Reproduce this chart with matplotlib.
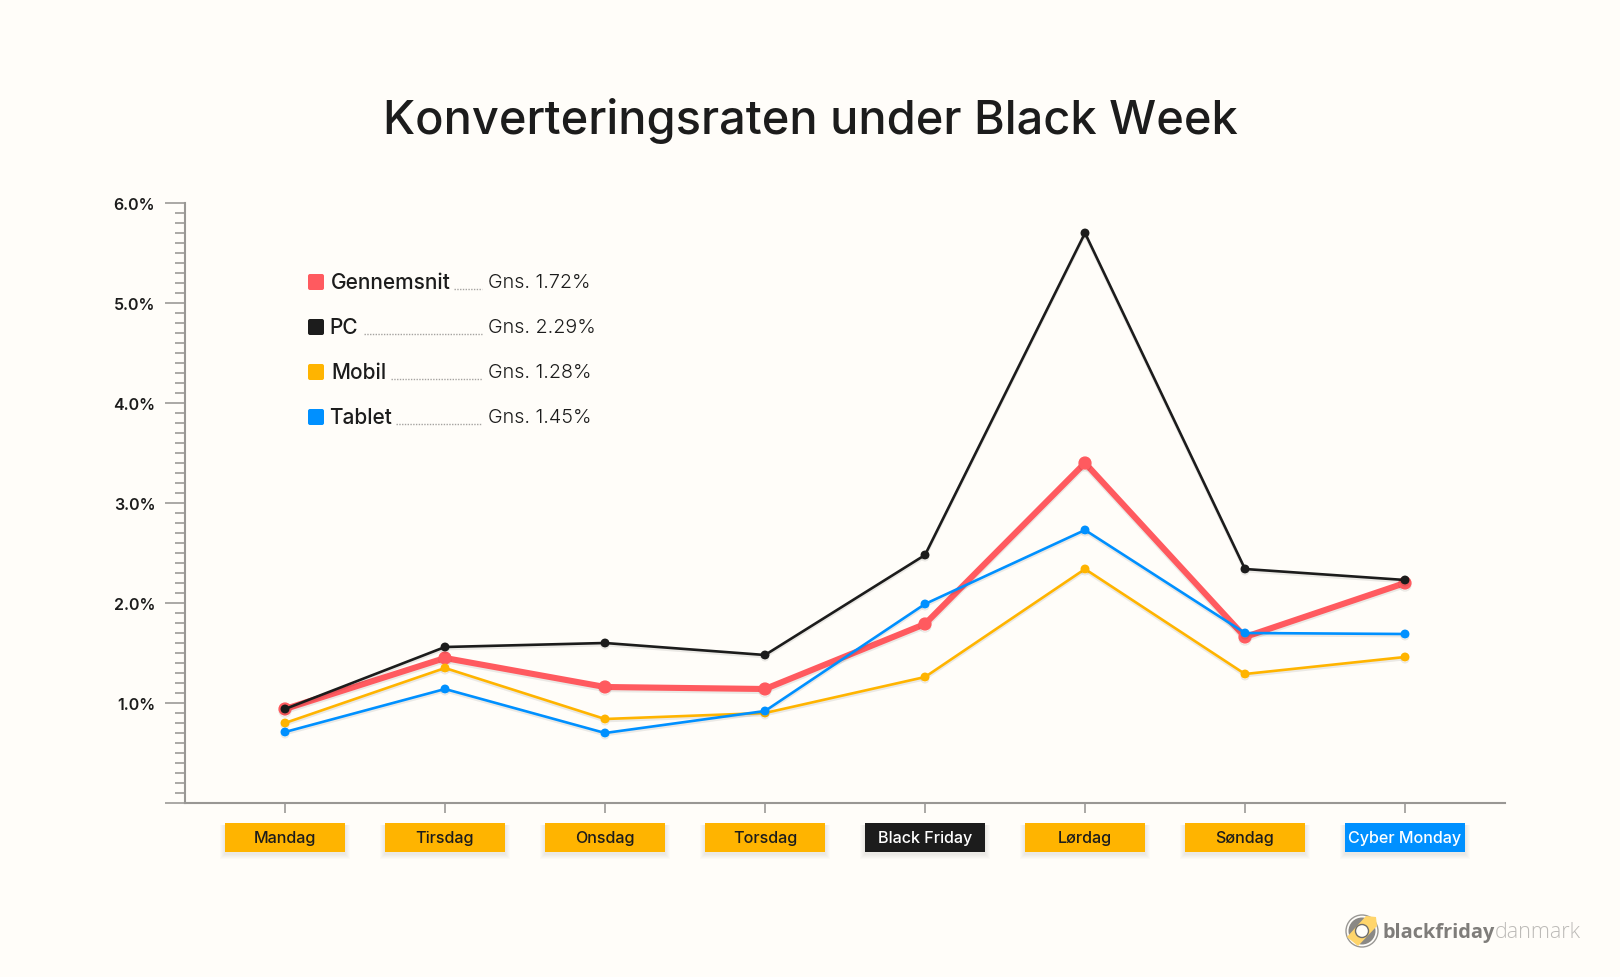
import matplotlib
matplotlib.use("Agg")
import matplotlib.pyplot as plt
import matplotlib.patheffects as pe
from matplotlib.patches import Rectangle, FancyBboxPatch, Circle, Polygon

# data
days = ["Mandag", "Tirsdag", "Onsdag", "Torsdag", "Black Friday", "Lørdag", "Søndag", "Cyber Monday"]
gennemsnit = [0.94, 1.45, 1.16, 1.14, 1.79, 3.40, 1.66, 2.20]
pc = [0.94, 1.56, 1.60, 1.48, 2.48, 5.70, 2.34, 2.23]
mobil = [0.80, 1.35, 0.84, 0.90, 1.26, 2.34, 1.29, 1.46]
tablet = [0.71, 1.14, 0.70, 0.92, 1.99, 2.73, 1.70, 1.69]
legend_names = ["Gennemsnit", "PC", "Mobil", "Tablet"]
legend_avgs = ["Gns. 1.72%", "Gns. 2.29%", "Gns. 1.28%", "Gns. 1.45%"]
y_major = [0, 1, 2, 3, 4, 5, 6]
y_labels = ["", "1.0%", "2.0%", "3.0%", "4.0%", "5.0%", "6.0%"]

BG = "#FFFDF9"
RED = "#FF5A5F"
BLACK = "#1C1C1C"
YELLOW = "#FFB400"
BLUE = "#0090FF"
GRAY = "#999794"
W, H = 1620, 978

plt.rcParams["font.family"] = ["Inter", "DejaVu Sans"]

fig = plt.figure(figsize=(W / 100, H / 100), dpi=100, facecolor=BG)

# main chart axes
ax = fig.add_axes([185 / W, 1 - 804 / H, (1505 - 185) / W, 600 / H])
ax.set_facecolor("none")
ax.set_xlim(-0.625, 7.625)
ax.set_ylim(0, 6)
for s in ["top", "right"]:
    ax.spines[s].set_visible(False)
for s in ["left", "bottom"]:
    ax.spines[s].set_color(GRAY)
    ax.spines[s].set_linewidth(1.5)

ax.set_yticks(y_major)
ax.set_yticklabels(y_labels, fontsize=11.5, fontweight=600, color=BLACK)
ax.set_yticks([i / 10 for i in range(61) if i % 10 != 0], minor=True)
ax.tick_params(axis="y", which="major", length=14.4, width=1.4, color="#AAA8A5", pad=7)
ax.tick_params(axis="y", which="minor", length=7.2, width=1.4, color="#AAA8A5")
ax.set_xticks(range(len(days)))
ax.set_xticklabels([])
ax.tick_params(axis="x", length=7.2, width=1.4, color="#AAA8A5")

shadow = [pe.SimpleLineShadow(offset=(0, -1.5), shadow_color="black", alpha=0.08), pe.Normal()]
ax.plot(gennemsnit, color=RED, lw=4.4, marker="o", ms=8.5, solid_joinstyle="round", zorder=3, path_effects=shadow)
ax.plot(pc, color=BLACK, lw=1.9, marker="o", ms=5.4, zorder=4, path_effects=shadow)
ax.plot(mobil, color=YELLOW, lw=1.9, marker="o", ms=5.4, zorder=4, path_effects=shadow)
ax.plot(tablet, color=BLUE, lw=1.9, marker="o", ms=5.4, zorder=4, path_effects=shadow)

# overlay in pixel coordinates for title, legend, day boxes and logo
ov = fig.add_axes([0, 0, 1, 1])
ov.set_xlim(0, W)
ov.set_ylim(H, 0)
ov.axis("off")
ov.patch.set_alpha(0)

ov.text(810, 121, "Konverteringsraten under Black Week", fontsize=33.8, fontweight=500,
        color=BLACK, ha="center", va="center")

# legend
leg_colors = [RED, BLACK, YELLOW, BLUE]
leg_y = [283, 328, 373, 418]
leg_tx = [331, 329, 331, 329]
leader_x = [454, 364, 391, 396]
for i, name in enumerate(legend_names):
    y = leg_y[i]
    ov.add_patch(FancyBboxPatch((309, y - 7), 14, 14, boxstyle="round,pad=1,rounding_size=2",
                                fc=leg_colors[i], ec="none"))
    ov.text(leg_tx[i], y, name, fontsize=15, fontweight=450, color=BLACK, va="center", ha="left")
    ov.plot([leader_x[i], 482], [y + 7, y + 7], color="#A5A3A0", lw=1, ls=(0, (1, 1)))
    ov.text(488, y, legend_avgs[i], fontsize=14.2, fontweight=300, color=BLACK, va="center", ha="left")

# day boxes under the axis
box_colors = [YELLOW, YELLOW, YELLOW, YELLOW, BLACK, YELLOW, YELLOW, BLUE]
txt_colors = [BLACK, BLACK, BLACK, BLACK, "white", BLACK, BLACK, "white"]
for i, day in enumerate(days):
    cx = 285 + 160 * i
    for k in range(1, 6):
        ov.add_patch(Rectangle((cx - 60 - k, 826), 120 + 2 * k, 29 + k, fc="black", ec="none", alpha=0.014))
    ov.add_patch(Rectangle((cx - 60, 824), 120, 29, fc=box_colors[i], ec="none"))
    ov.text(cx, 839, day, fontsize=11.6, fontweight=450, color=txt_colors[i], ha="center", va="center")

# logo
ov.add_patch(Circle((1362, 932), 16, fc=BG, ec="#9A9895", lw=1))
ov.add_patch(Circle((1362, 932), 13.5, fc="#8A8885", ec="none"))
ov.add_patch(Polygon([(1347, 938), (1366, 917), (1376, 918), (1377, 927), (1358, 947)], fc="#FFD56B", ec="none"))
ov.add_patch(Circle((1362, 932), 6.5, fc=BG, ec="#6F6D6A", lw=1))
ov.text(1382, 933, "blackfriday", fontsize=14.4, fontweight="bold", family="Open Sans",
        color="#7F7D7A", va="center", ha="left")
ov.text(1495, 933, "danmark", fontsize=15.6, fontweight=300, family="Open Sans",
        color="#BDBBB8", va="center", ha="left")

fig.savefig("out.png", dpi=100, facecolor=BG)
